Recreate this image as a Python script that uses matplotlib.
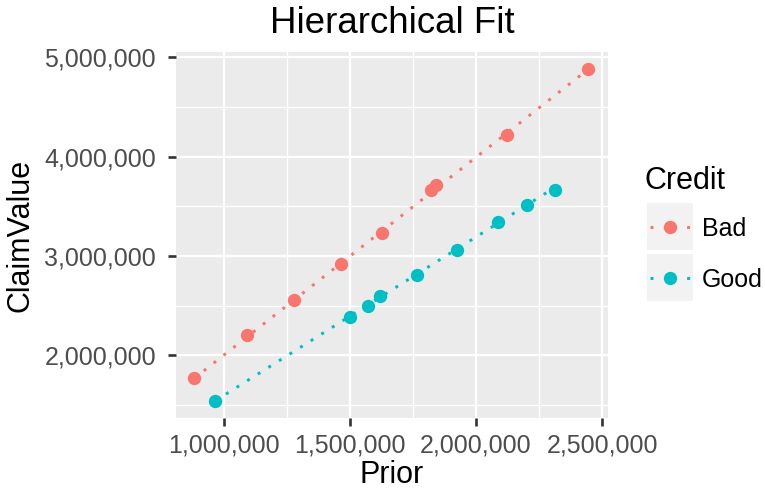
import matplotlib
matplotlib.use("Agg")
import matplotlib.pyplot as plt
from matplotlib.ticker import FuncFormatter, MultipleLocator
from matplotlib.lines import Line2D
from matplotlib.patches import Rectangle
import numpy as np

plt.rcParams["font.family"] = ["Liberation Sans", "DejaVu Sans"]

# Observed claims by credit group
bad_prior = [881000, 1092000, 1278000, 1465000, 1626000, 1822000, 1841000, 2123000, 2446000]
bad_claim = [1775000, 2201000, 2560000, 2923000, 3235000, 3664000, 3711000, 4221000, 4886000]
good_prior = [966000, 1501000, 1570000, 1621000, 1765000, 1925000, 2087000, 2203000, 2312000]
good_claim = [1544000, 2386000, 2500000, 2594000, 2812000, 3060000, 3339000, 3513000, 3668000]

# Group-level fitted lines (intercept, slope) from the hierarchical model
bad_fit = (13000, 1.99)
good_fit = (3000, 1.594)

groups = ["Bad", "Good"]
colors = {"Bad": "#F8766D", "Good": "#00BFC4"}

W, H = 765, 491
fig = plt.figure(figsize=(W / 100, H / 100), dpi=100)
px_l, px_r, px_t, px_b = 176, 608, 52, 418
ax = fig.add_axes([px_l / W, 1 - px_b / H, (px_r - px_l) / W, (px_b - px_t) / H])
ax.set_facecolor("#EBEBEB")
for s in ax.spines.values():
    s.set_visible(False)

data = {
    "Bad": (bad_prior, bad_claim, bad_fit),
    "Good": (good_prior, good_claim, good_fit),
}
LW = 2.16
dot = (0, (1, 3.17))
for g in groups:
    xp, yc, (b0, b1) = data[g]
    xs = np.array(sorted(xp), dtype=float)
    ax.plot(xs, b0 + b1 * xs, color=colors[g], lw=LW, linestyle=dot,
            dash_capstyle="butt", zorder=3)
    ax.plot(xp, yc, "o", color=colors[g], ms=9.6, mew=0, zorder=4)

ax.set_xlim(809700, 2523800)
ax.set_ylim(1369000, 5053000)
ax.xaxis.set_major_locator(MultipleLocator(500000))
ax.xaxis.set_minor_locator(MultipleLocator(250000))
ax.yaxis.set_major_locator(MultipleLocator(1000000))
ax.yaxis.set_minor_locator(MultipleLocator(500000))
ax.grid(which="major", color="white", lw=1.6)
ax.grid(which="minor", color="white", lw=1.0)
ax.set_axisbelow(True)

fmt = FuncFormatter(lambda v, p: f"{int(round(v)):,}")
ax.xaxis.set_major_formatter(fmt)
ax.yaxis.set_major_formatter(fmt)
ax.tick_params(which="major", length=5.8, width=1.9, color="#333333",
               labelsize=18, labelcolor="#4D4D4D")
ax.tick_params(axis="x", which="major", pad=5.6)
ax.tick_params(axis="y", which="major", pad=8.6)
ax.tick_params(which="minor", length=0)

# Titles placed in figure pixel terms
fig.text(392 / W, 1 - 33 / H, "Hierarchical Fit", fontsize=26.4,
         ha="center", va="baseline")
fig.text(392 / W, 1 - 483 / H, "Prior", fontsize=22, ha="center", va="baseline")
fig.text(21 / W, 1 - ((px_t + px_b) / 2) / H, "ClaimValue", fontsize=22,
         rotation=90, ha="center", va="center")

# Legend drawn in figure pixel coordinates
lg = fig.add_axes([0, 0, 1, 1], facecolor="none")
lg.set_xlim(0, W)
lg.set_ylim(H, 0)
lg.axis("off")
lg.text(645, 189, "Credit", fontsize=22, va="baseline", ha="left")
for i, g in enumerate(groups):
    y0 = 203.3 + i * 50.7
    lg.add_patch(Rectangle((646.7, y0), 46, 46.7, facecolor="#F2F2F2", edgecolor="none"))
    cy = y0 + 24
    lg.add_line(Line2D([650.2, 690], [cy, cy], color=colors[g], lw=LW,
                       linestyle=(0, (1, 5.1)), dash_capstyle="butt"))
    lg.add_line(Line2D([670], [cy], marker="o", color=colors[g], ms=9.6, mew=0))
    lg.text(701.7, y0 + 32.7, g, fontsize=18, va="baseline", ha="left")

fig.savefig("out.png", dpi=100)
